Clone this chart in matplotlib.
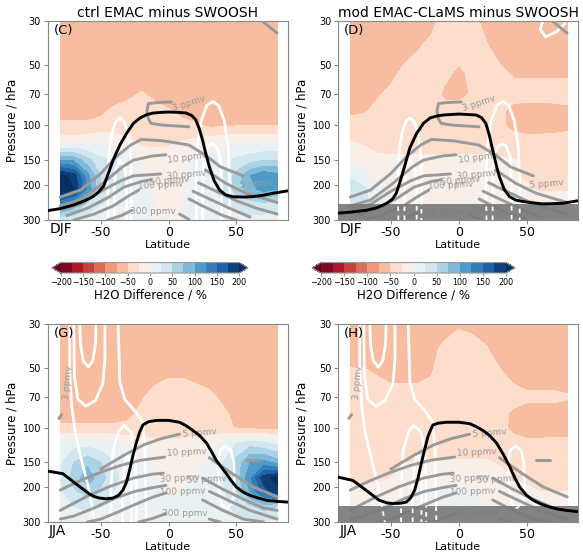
# H2O difference cross sections: models minus SWOOSH (DJF / JJA)
import numpy as np
import matplotlib.pyplot as plt
from matplotlib.ticker import NullLocator

plt.rcParams['font.family'] = 'DejaVu Sans'

# grid of the difference fields
LAT = [-80, -70, -60, -50, -40, -30, -20, -10, 0, 10, 20, 30, 40, 50, 60, 70, 80]
PLEV = [30, 40, 55, 70, 85, 100, 120, 150, 180, 210, 250, 300]

# H2O difference / %   (rows = PLEV, columns = LAT)
diff_c = [
    [-60]*17,
    [-60]*17,
    [-60]*17,
    [-60, -60, -60, -60, -60, -55, -48, -55, -60, -60, -60, -60, -60, -60, -60, -60, -60],
    [-60, -60, -60, -55, -45, -40, -40, -42, -48, -58, -60, -60, -60, -60, -60, -60, -60],
    [-45, -45, -45, -42, -40, -38, -38, -38, -40, -42, -48, -55, -55, -52, -50, -50, -50],
    [-15, -15, -10, -5, -8, -20, -30, -32, -30, -25, -20, -12, -8, -5, -5, -5, -5],
    [100, 95, 60, 30, 25, 10, -10, -12, -12, -10, 5, 15, 20, 30, 40, 50, 50],
    [210, 190, 110, 50, 35, 25, 5, -5, -10, -5, 5, 15, 25, 60, 100, 120, 110],
    [220, 200, 120, 50, 30, 20, 5, -10, -15, -10, 5, 20, 30, 60, 90, 110, 100],
    [120, 90, 40, 25, 20, 15, 5, 0, -5, 0, 10, 20, 25, 30, 35, 40, 35],
    [30, 25, 15, 15, 15, 10, 5, -5, -5, 0, 10, 15, 15, 20, 20, 15, 15],
]
diff_d = [
    [-60, -60, -60, -60, -60, -60, -55, -42, -40, -45, -55, -60, -60, -60, -60, -60, -60],
    [-60, -60, -60, -60, -58, -52, -45, -40, -40, -40, -48, -58, -60, -60, -60, -60, -60],
    [-60, -60, -58, -55, -45, -40, -40, -45, -55, -45, -40, -45, -52, -52, -52, -52, -52],
    [-58, -55, -52, -45, -40, -40, -40, -55, -56, -48, -40, -40, -42, -42, -42, -42, -42],
    [-55, -52, -45, -40, -40, -40, -40, -40, -40, -40, -40, -45, -57, -60, -60, -58, -55],
    [-40, -40, -40, -40, -40, -40, -40, -40, -40, -40, -40, -45, -57, -60, -60, -58, -55],
    [-25, -28, -30, -32, -32, -32, -32, -32, -32, -32, -32, -35, -40, -42, -42, -42, -42],
    [-10, -15, -22, -22, -22, -22, -22, -22, -22, -22, -22, -22, -24, -28, -30, -30, -30],
    [20, 10, -10, -18, -20, -20, -20, -20, -20, -20, -20, -20, -22, -28, -30, -30, -30],
    [45, 30, 10, -5, -12, -15, -15, -15, -15, -15, -15, -12, -15, -22, -28, -28, -28],
    [50, 30, 15, 5, -5, -10, -10, -10, -10, -10, -5, 0, 0, -5, -10, -10, -10],
    [40, 25, 15, 5, -5, -10, -10, -10, -10, -10, -5, 0, 0, -5, -10, -10, -10],
]
diff_g = [
    [-60]*17,
    [-60]*17,
    [-60, -60, -60, -60, -60, -60, -60, -56, -51, -51, -55, -58, -60, -60, -60, -60, -60],
    [-60, -60, -60, -60, -60, -60, -52, -42, -40, -40, -40, -45, -55, -60, -60, -60, -60],
    [-60, -60, -60, -60, -60, -55, -45, -40, -40, -40, -40, -40, -45, -58, -60, -60, -60],
    [-45, -45, -45, -45, -45, -45, -40, -38, -35, -35, -35, -38, -42, -52, -58, -58, -58],
    [10, 15, 15, 10, 5, -5, -15, -20, -20, -20, -15, -10, 5, 25, 40, 30, 20],
    [20, 50, 70, 50, 25, 15, 5, -5, -10, -10, -5, 5, 25, 60, 100, 110, 90],
    [25, 60, 90, 60, 30, 15, 10, 0, -10, -5, 0, 10, 25, 60, 120, 190, 210],
    [20, 45, 60, 45, 25, 15, 10, 5, -5, 0, 5, 10, 20, 50, 100, 160, 190],
    [15, 25, 30, 25, 20, 15, 10, 5, 5, 5, 10, 15, 20, 30, 45, 60, 50],
    [10, 15, 15, 15, 15, 10, 10, 5, 5, 5, 10, 10, 15, 20, 20, 20, 20],
]
diff_h = [
    [-60, -60, -60, -60, -60, -60, -58, -58, -52, -55, -60, -60, -60, -60, -60, -60, -60],
    [-60, -60, -60, -60, -60, -60, -55, -45, -42, -42, -48, -60, -60, -60, -60, -60, -60],
    [-45, -45, -50, -55, -55, -55, -50, -40, -40, -40, -40, -45, -55, -60, -60, -60, -60],
    [-40, -40, -40, -40, -40, -40, -40, -40, -40, -40, -40, -40, -40, -45, -45, -45, -48],
    [-40, -40, -40, -40, -40, -40, -40, -40, -40, -40, -40, -40, -55, -60, -60, -60, -60],
    [-40, -40, -40, -40, -40, -40, -40, -40, -40, -40, -40, -42, -55, -60, -60, -58, -58],
    [-38, -38, -38, -38, -38, -38, -38, -38, -38, -38, -38, -38, -42, -45, -45, -45, -45],
    [-35, -35, -35, -30, -25, -25, -22, -22, -22, -22, -22, -28, -30, -30, -30, -30, -30],
    [-30, -30, -30, -25, -15, -10, -10, -10, -10, -10, -10, -15, -25, -30, -30, -30, -30],
    [-15, -20, -15, -10, -5, 5, 5, 5, 5, 0, -5, -10, -15, -20, -25, -25, -25],
    [0, 0, 0, 5, 10, 15, 15, 15, 10, 5, 0, -5, -10, -10, -15, -15, -15],
    [0, 0, 0, 5, 10, 15, 15, 15, 10, 5, 0, -5, -10, -10, -15, -15, -15],
]

# tropopause (black)
trop_c_lat = [-89, -80, -70, -62, -56, -52, -48, -44.5, -41, -36, -31, -26, -21, -16, -11.5, -5, 0,
              7, 13, 17, 20, 22.5, 25, 27.5, 30, 33.5, 37.5, 42, 47, 55, 62, 70, 77, 88]
trop_c_p = [269, 263, 252, 240, 229, 218, 203, 175, 150, 126, 110, 98, 92, 88.5, 87, 86.3, 86,
            86.3, 87, 89.5, 94, 104, 119, 140, 162, 190, 212, 224, 229, 230, 229, 225, 220, 214]
trop_d_lat = [-89, -80, -68, -60, -53, -49, -46, -43, -40, -36, -31, -26, -21, -16, -11.5, 0,
              13, 17, 20, 22.5, 25, 27.5, 30, 33.5, 37.5, 42, 47, 55, 62, 70, 77, 88]
trop_d_p = [277, 274, 268, 260, 247, 236, 220, 190, 162, 130, 110, 98, 92, 90, 89, 88,
            89, 92, 98, 112, 133, 157, 182, 210, 229, 238, 242, 246, 249, 248, 247, 240]
trop_g_lat = [-89, -78, -68.5, -63, -58.6, -55, -51, -46, -41, -37, -33.7, -31, -28.8, -26.5, -24,
              -21.5, -19, -15, -9, 0, 8, 13, 18, 23, 28, 31.5, 35, 39, 42.6, 46, 50, 55, 60, 66,
              72, 80, 88]
trop_g_p = [166, 171, 192, 205, 216, 223, 227, 229, 227, 220, 207, 188, 164, 140, 120,
            106, 97, 93.5, 92, 92, 94, 98, 103.6, 110, 120, 132, 146, 159, 171, 185, 200, 212, 220, 227,
            233, 236, 238]
trop_h_lat = [-89, -78, -68.5, -63, -58.6, -53, -48.5, -43, -38.7, -35.5, -32.5, -30, -27.6, -25,
              -22.7, -20.5, -19, -15, -9, 0, 8, 13, 18, 23, 28, 33, 37.7, 41.5, 45, 50, 55, 61, 67,
              73, 79.5, 88]
trop_h_p = [178, 185, 207, 221, 233, 240, 242, 241, 238, 227, 207, 180, 152, 128,
            111, 102, 97, 95, 94, 94, 95.5, 99, 103.6, 110, 120, 137, 158, 180, 200, 220, 233, 244, 252,
            258, 262, 266]

# water vapour isolines (grey), (lat, p)
h2o_djf = [
    ([2, -8, -15, -16, -15, -13, -5, 5, 15], [76.5, 77, 78, 85, 93, 98, 100, 101, 102]),
    ([-80, -65, -50, -38, -28, -20, -4, 15, 28, 38, 55], [230, 212, 175, 143, 126, 118, 120, 126, 143, 162, 180]),
    ([-80, -65, -50, -34, -26, -12, -2], [255, 238, 200, 162, 150, 143, 141]),
    ([27, 42, 57, 80], [168, 196, 220, 245]),
    ([-80, -65, -50, -35, -26, -6], [265, 250, 215, 190, 180, 176]),
    ([22, 35, 50, 65, 80], [195, 215, 240, 262, 280]),
    ([-75, -60, -45, -33, -20, -13], [285, 262, 232, 205, 192, 188]),
    ([18, 30, 45, 60], [215, 235, 262, 290]),
    ([-70, -55, -41, -30, -22], [300, 280, 255, 228, 212]),
    ([15, 25, 40, 50], [235, 255, 285, 300]),
    ([-45, -35, -27], [300, 285, 268]),
    ([8, 15], [280, 298]),
    ([69, 80], [30, 34.5]),
]
h2o_djf_labels = [
    ('3 ppmv', 15, 78, 18), ('10 ppmv', 14, 146, 8), ('30 ppmv', 13, 177, 5),
    ('50 ppmv', 1, 190, 5), ('100 ppmv', -6, 201, 3), ('300 ppmv', -12, 272, 0),
    ('5 ppmv', 65, 197, 5),
]
h2o_jja = [
    ([-50, -33, -18, -6, 8], [162, 138, 122, 114, 108]),
    ([-80, -65, -50, -35, -20, -3], [207, 185, 168, 155, 146, 141]),
    ([30, 47, 62, 80], [142, 171, 199, 224]),
    ([-80, -61, -44, -26, -12, -4], [262, 224, 199, 180, 172, 170]),
    ([25, 40, 55, 70, 80], [180, 205, 230, 255, 262]),
    ([-80, -70, -55, -40, -25, -10, -2], [290, 280, 255, 228, 210, 200, 196]),
    ([30, 45, 60, 80], [210, 235, 262, 290]),
    ([-60, -50, -38, -25, -12, -2], [300, 290, 268, 245, 225, 214]),
    ([25, 40, 55, 70], [232, 262, 290, 300]),
    ([-22, -12, -2], [300, 288, 272]),
    ([30, 38], [290, 300]),
    ([-81, -79], [90, 86]),
    ([57, 67], [146, 146]),
]
h2o_jja_labels = [
    ('3 ppmv', -74, 59, 85), ('5 ppmv', 23, 106, 5), ('10 ppmv', 13, 133, 3),
    ('30 ppmv', 8, 181, 3), ('50 ppmv', 28, 183, 3), ('100 ppmv', 10, 211, 2),
    ('300 ppmv', 12, 272, 0),
]

# jet isolines (white), (lat, p)
jet_djf = [
    ([-44.5, -45, -44, -42, -39, -36, -33, -30, -28, -27.5, -27.5], [300, 200, 140, 110, 96, 92, 96, 110, 140, 200, 300]),
    ([-40, -40, -39, -36, -33, -31, -31], [300, 200, 165, 150, 160, 190, 300]),
    ([20.5, 20, 21, 24, 28, 32.5, 37, 41, 44, 45, 45], [300, 200, 130, 95, 80, 76, 80, 95, 130, 200, 300]),
    ([25, 25, 26, 29, 32, 35, 38, 39, 39], [300, 200, 145, 128, 124, 128, 145, 200, 300]),
]
jet_djf_extra_d = [([62, 60, 64, 72, 78], [30, 33, 36, 34, 31])]
jet_jja = [
    ([-73, -73, -71.6, -69, -64, -59, -54.5], [30, 52, 77, 105, 149, 203, 300]),
    ([-65.5, -65, -63, -59.3, -56, -54, -53.5], [30, 38, 46, 49.5, 46, 38, 30]),
    ([-70, -69.5, -67, -61, -54, -48.5, -47, -47], [30, 55, 72, 78, 73, 60, 45, 30]),
    ([-37.3, -36.5, -36, -32.4, -24, -19, -17.5, -17, -16.5], [30, 45, 59, 72, 84, 94, 130, 200, 300]),
    ([-42.5, -42.5, -41, -37, -33, -28, -25, -24, -24], [300, 200, 130, 105, 97.5, 105, 130, 200, 300]),
    ([-34, -34, -32.5, -30.5, -28.5, -27.5, -27.5], [300, 200, 150, 135, 150, 200, 300]),
    ([37, 36.5, 38, 42, 46, 48, 48.5, 47, 43, 39, 37], [200, 150, 130, 124, 130, 150, 200, 240, 255, 245, 200]),
]

PTICKS = [30, 50, 70, 100, 150, 200, 300]
levels = np.arange(-200, 201, 25)
grey = '#9a9a9a'


def draw_panel(ax, diff, tlat, tp, h2o, h2o_labels, jets, letter, season, title=None, box=False):
    cf = ax.contourf(LAT, PLEV, diff, levels=levels, cmap='RdBu', extend='both', zorder=1)
    for lat, p in jets:
        ax.plot(lat, p, color='white', lw=2, zorder=2)
    for lat, p in h2o:
        ax.plot(lat, p, color=grey, lw=2.1, zorder=3, solid_capstyle='round')
    for txt, lat, p, rot in h2o_labels:
        ax.text(lat, p, txt, color=grey, fontsize=6.5, rotation=rot,
                ha='center', va='center', zorder=3)
    if box:
        # region below the EMAC-CLaMS model domain
        span = ax.axhspan(250, 300, color='#7a7a7a', alpha=0.92, lw=0, zorder=4)
        for lat, p in jets:
            ln, = ax.plot(lat, p, color='white', lw=1.3, ls=(0, (2.5, 2.5)), zorder=4.5)
            ln.set_clip_path(span)
    ax.plot(tlat, tp, color='black', lw=2.1, zorder=5, solid_joinstyle='round')

    ax.set_yscale('log')
    ax.set_ylim(300, 30)
    ax.set_xlim(-89, 88)
    ax.set_yticks(PTICKS)
    ax.set_yticklabels([str(v) for v in PTICKS])
    ax.yaxis.set_minor_locator(NullLocator())
    ax.set_xticks([-50, 0, 50])
    ax.set_xticklabels(['-50', '0', '50'])
    ax.tick_params(axis='x', labelsize=9, length=3, pad=1.5, color='#888888')
    ax.tick_params(axis='y', labelsize=7, length=3, pad=2, color='#888888')
    ax.set_ylabel('Pressure / hPa', fontsize=8.5, labelpad=3)
    ax.set_xlabel('Latitude', fontsize=8, labelpad=0.5)
    for s in ax.spines.values():
        s.set_color('#888888')
    ax.text(0.025, 0.985, letter, transform=ax.transAxes, ha='left', va='top', fontsize=9.5, zorder=6)
    ax.text(0.005, -0.012, season, transform=ax.transAxes, ha='left', va='top', fontsize=10)
    if title:
        ax.set_title(title, fontsize=10, pad=3)
    return cf


fig = plt.figure(figsize=(5.83, 5.52), dpi=100)

ax_c = fig.add_axes([0.0823, 0.6014, 0.4117, 0.3605])
ax_d = fig.add_axes([0.5798, 0.6014, 0.4117, 0.3605])
ax_g = fig.add_axes([0.0823, 0.0543, 0.4117, 0.3587])
ax_h = fig.add_axes([0.5798, 0.0543, 0.4117, 0.3587])

cf = draw_panel(ax_c, diff_c, trop_c_lat, trop_c_p, h2o_djf, h2o_djf_labels, jet_djf,
                '(C)', 'DJF', title='ctrl EMAC minus SWOOSH')
cf2 = draw_panel(ax_d, diff_d, trop_d_lat, trop_d_p, h2o_djf, h2o_djf_labels,
                 jet_djf + jet_djf_extra_d, '(D)', 'DJF',
                 title='mod EMAC-CLaMS minus SWOOSH', box=True)
draw_panel(ax_g, diff_g, trop_g_lat, trop_g_p, h2o_jja, h2o_jja_labels, jet_jja, '(G)', 'JJA')
draw_panel(ax_h, diff_h, trop_h_lat, trop_h_p, h2o_jja, h2o_jja_labels, jet_jja, '(H)', 'JJA', box=True)

# colour bars
for pos, c in [([0.0892, 0.5054, 0.3362, 0.019], cf), ([0.5352, 0.5054, 0.3482, 0.019], cf2)]:
    cax = fig.add_axes(pos)
    cb = fig.colorbar(c, cax=cax, orientation='horizontal', ticks=np.arange(-200, 201, 50))
    cb.outline.set_edgecolor('#999999')
    cb.ax.tick_params(labelsize=5.8, length=2, pad=1.5, color='#999999')
    cb.set_label('H2O Difference / %', fontsize=8.5, labelpad=1)

fig.savefig('out.png', dpi=100)
